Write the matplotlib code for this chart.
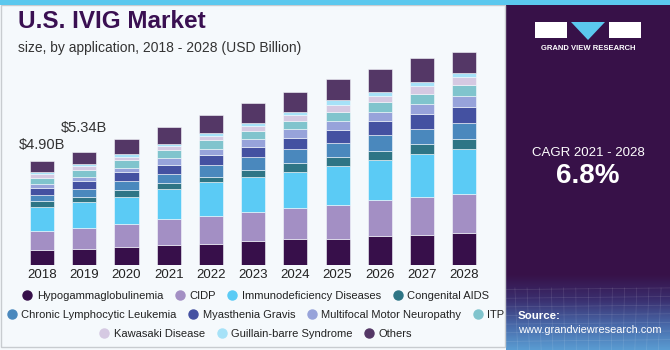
import numpy as np
from matplotlib import pyplot as plt
from matplotlib.patches import Rectangle, Polygon
from matplotlib.colors import LinearSegmentedColormap

years = [2018, 2019, 2020, 2021, 2022, 2023, 2024, 2025, 2026, 2027, 2028]

segments = [
    "Hypogammaglobulinemia", "CIDP", "Immunodeficiency Diseases", "Congenital AIDS",
    "Chronic Lymphocytic Leukemia", "Myasthenia Gravis", "Multifocal Motor Neuropathy", "ITP",
    "Kawasaki Disease", "Guillain-barre Syndrome", "Others",
]

hypo = [0.71, 0.77, 0.83, 0.94, 0.99, 1.12, 1.21, 1.23, 1.38, 1.41, 1.52]
cidp = [0.91, 0.99, 1.10, 1.21, 1.33, 1.39, 1.49, 1.60, 1.67, 1.80, 1.84]
immuno = [1.10, 1.20, 1.27, 1.41, 1.57, 1.62, 1.70, 1.84, 1.90, 2.00, 2.11]
congenital = [0.28, 0.26, 0.33, 0.28, 0.26, 0.34, 0.42, 0.44, 0.44, 0.50, 0.47]
cll = [0.28, 0.38, 0.42, 0.47, 0.55, 0.61, 0.63, 0.65, 0.74, 0.69, 0.74]
myasthenia = [0.36, 0.36, 0.42, 0.42, 0.47, 0.49, 0.53, 0.61, 0.65, 0.71, 0.77]
mmn = [0.17, 0.20, 0.22, 0.33, 0.28, 0.36, 0.41, 0.42, 0.45, 0.47, 0.52]
itp = [0.30, 0.32, 0.34, 0.34, 0.42, 0.39, 0.39, 0.42, 0.46, 0.47, 0.52]
kawasaki = [0.17, 0.19, 0.16, 0.20, 0.22, 0.25, 0.27, 0.33, 0.25, 0.36, 0.38]
guillain = [0.08, 0.08, 0.13, 0.11, 0.14, 0.14, 0.17, 0.24, 0.21, 0.22, 0.19]
others = [0.54, 0.59, 0.71, 0.77, 0.82, 0.90, 0.94, 0.98, 1.10, 1.10, 0.98]

series = [hypo, cidp, immuno, congenital, cll, myasthenia, mmn, itp, kawasaki, guillain, others]

colors = ["#370F4A", "#A38FC4", "#5BCBF5", "#2E7585", "#4A88BD", "#4451A1",
          "#97A3DA", "#80C4CD", "#D5C9E2", "#A6E2F8", "#543766"]

labels = {2018: "$4.90B", 2019: "$5.34B"}
label_y = {2018: 5.65, 2019: 6.46}

bg = "#F5F9FC"
purple = "#371148"

fig = plt.figure(figsize=(6.7, 3.5), dpi=100)
fig.patch.set_facecolor(bg)
plt.rcParams['font.family'] = ['Liberation Sans', 'DejaVu Sans']

W, H = 670.0, 350.0

# panel frame and top strip
fig.patches.append(Rectangle((0.5 / W, 3 / H), 505 / W, 342 / H, transform=fig.transFigure,
                             facecolor="none", edgecolor="#C8CCD0", lw=1.0))
fig.patches.append(Rectangle((0, 1 - 5 / H), 1, 5 / H, transform=fig.transFigure,
                             facecolor="#5BC8EE", edgecolor="none"))

ax = fig.add_axes([10 / W, 85 / H, 485 / W, 225 / H])
ax.set_facecolor("none")
bottom = np.zeros(len(years))
for vals, name, col in zip(series, segments, colors):
    ax.bar(years, vals, width=0.57, bottom=bottom, color=col, label=name,
           edgecolor=bg, linewidth=0.4)
    bottom += np.array(vals)

for yr, txt in labels.items():
    ax.text(yr, label_y[yr], txt, ha="center", va="center", fontsize=10.5, color="#333333")

ax.set_xlim(2017.24, 2028.73)
ax.set_ylim(0, 10.6)
ax.set_xticks(years)
ax.set_xticklabels([str(y) for y in years], fontsize=9.5, color="#222222")
ax.tick_params(axis="x", length=0, pad=3)
ax.set_yticks([])
for s in ax.spines.values():
    s.set_visible(False)

fig.text(18 / W, 1 - 22 / H, "U.S. IVIG Market", fontsize=17.5, fontweight="heavy",
         color="#3A1052", va="center", ha="left")
fig.text(18 / W, 1 - 48 / H, "size, by application, 2018 - 2028 (USD Billion)", fontsize=10,
         color="#333333", va="center", ha="left")

# legend rows
handles, names = ax.get_legend_handles_labels()
rows = [range(0, 4), range(4, 8), range(8, 11)]
row_y = [296, 315, 334]
for r, yy in zip(rows, row_y):
    hs = [plt.Line2D([], [], marker="o", ls="", markersize=6.5, color=colors[i]) for i in r]
    ls = [names[i] for i in r]
    leg = fig.legend(hs, ls, loc="center", bbox_to_anchor=(254 / W, 1 - yy / H), ncol=len(ls),
                     frameon=False, fontsize=8.0, handletextpad=0.1, columnspacing=0.75,
                     borderpad=0, handlelength=1.5)
    for t in leg.get_texts():
        t.set_color("#222222")

# right panel
side = fig.add_axes([506 / W, 0, 164 / W, 1 - 5 / H])
side.set_xlim(0, 1)
side.set_ylim(0, 1)
side.axis("off")
side.add_patch(Rectangle((0, 0), 1, 1, facecolor=purple, edgecolor="none"))
grad = np.linspace(0, 1, 100)[:, None]
cmap = LinearSegmentedColormap.from_list("g", [purple, "#3A2E6E", "#4868A8", "#5A9CD2"])
side.imshow(grad, extent=(0, 1, 0, 0.22), aspect="auto", cmap=cmap, origin="upper", zorder=1)
for k in range(1, 14):
    side.plot([k / 14, k / 14 + 0.02 * (k - 7) / 7], [0, 0.18], color="white", alpha=0.12, lw=0.5, zorder=2)
for k in range(1, 8):
    side.plot([0, 1], [k * 0.025, k * 0.025 + 0.005], color="white", alpha=0.12, lw=0.5, zorder=2)

fig.text(588 / W, 1 - 153 / H, "CAGR 2021 - 2028", color="white", fontsize=9.5, ha="center", va="center")
fig.text(588 / W, 1 - 176 / H, "6.8%", color="white", fontsize=20, fontweight="bold", ha="center", va="center")
fig.text(518 / W, 1 - 316 / H, "Source:", color="white", fontsize=8.2, fontweight="bold", ha="left", va="center")
fig.text(518 / W, 1 - 330 / H, "www.grandviewresearch.com", color="white", fontsize=7.9, ha="left", va="center")

# logo
fig.patches.append(Rectangle((535 / W, 1 - 38 / H), 32 / W, 16 / H, transform=fig.transFigure,
                             facecolor="white", edgecolor="none"))
fig.patches.append(Rectangle((609 / W, 1 - 38 / H), 32 / W, 16 / H, transform=fig.transFigure,
                             facecolor="white", edgecolor="none"))
fig.patches.append(Polygon([(571 / W, 1 - 22 / H), (605 / W, 1 - 22 / H), (588 / W, 1 - 40 / H)],
                           transform=fig.transFigure, facecolor="#5BC8EE", edgecolor="none"))
fig.text(588 / W, 1 - 49 / H, "GRAND VIEW RESEARCH", color="white", fontsize=5.5,
         fontweight="bold", ha="center", va="center")

fig.savefig("out.png", dpi=100, facecolor=bg)
